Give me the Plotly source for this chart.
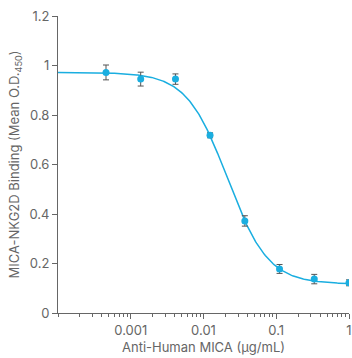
import plotly.graph_objects as go
import numpy as np

# Anti-Human MICA concentrations (µg/mL), 3-fold serial dilution
conc = [0.000457, 0.00137, 0.00412, 0.0123, 0.037, 0.111, 0.333, 1.0]
# Mean O.D.450 and error
od = [0.972, 0.945, 0.945, 0.718, 0.372, 0.178, 0.137, 0.122]
err = [0.030, 0.028, 0.021, 0.010, 0.021, 0.018, 0.019, 0.012]

# 4-parameter logistic fit parameters
top, bottom, ec50, hill = 0.972, 0.117, 0.0213, 1.55

x_tickvals = [1e-3, 1e-2, 1e-1, 1]
x_ticktext = ["0.001", "0.01", "0.1", "1"]

blue = "#1aaee0"
grey = "#666666"
font_family = "Inter, Roboto, sans-serif"

xfit = np.logspace(-4, 0, 300)
yfit = bottom + (top - bottom) / (1 + (xfit / ec50) ** hill)

minor_vals = [1e-4] + [m * 10.0 ** e for e in range(-4, 0) for m in range(2, 10)]

fig = go.Figure()
fig.add_trace(go.Scatter(
    x=xfit, y=yfit, mode="lines",
    line=dict(color=blue, width=1.5),
    hoverinfo="skip", showlegend=False,
))
fig.add_trace(go.Scatter(
    x=conc, y=od, mode="markers",
    marker=dict(color=blue, size=7),
    error_y=dict(type="data", array=err, color="#555555", thickness=1, width=3),
    showlegend=False,
))

fig.update_layout(
    width=352, height=358,
    margin=dict(l=58, r=0, t=16, b=45),
    paper_bgcolor="white", plot_bgcolor="white",
    font=dict(family=font_family, size=13, color=grey),
    xaxis=dict(
        type="log", range=[-4, 0],
        tickmode="array", tickvals=x_tickvals, ticktext=x_ticktext,
        ticklabeloverflow="allow",
        ticks="outside", ticklen=5, tickcolor=grey, tickwidth=1,
        minor=dict(tickvals=minor_vals, ticks="outside", ticklen=3, tickcolor=grey),
        showline=True, linecolor=grey, linewidth=1,
        showgrid=False, zeroline=False,
        title=dict(text="Anti-Human MICA (µg/mL)", standoff=6, font=dict(size=13)),
    ),
    yaxis=dict(
        range=[0, 1.2], dtick=0.2,
        ticks="outside", ticklen=5, tickcolor=grey, tickwidth=1,
        showline=True, linecolor=grey, linewidth=1,
        showgrid=False, zeroline=False,
        title=dict(text="MICA-NKG2D Binding (Mean O.D.<sub>450</sub>)", standoff=6,
                   font=dict(size=13)),
    ),
)

fig.write_html("out.html")
